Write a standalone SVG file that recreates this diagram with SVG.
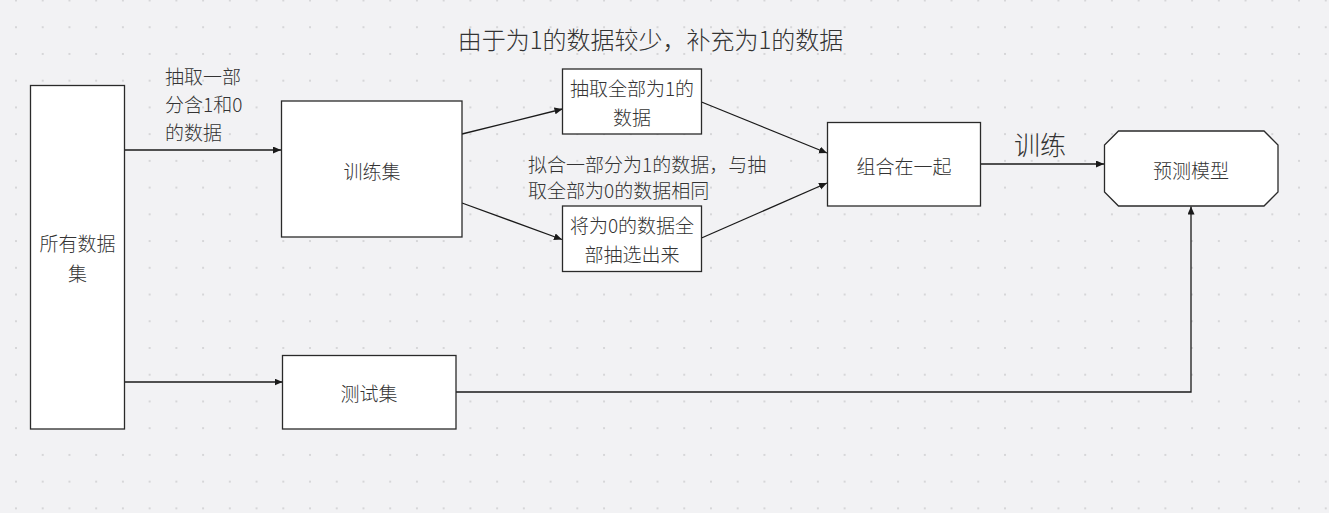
<svg xmlns="http://www.w3.org/2000/svg" width="1329" height="513" viewBox="0 0 1329 513">
  <defs>
    <pattern id="dots" patternUnits="userSpaceOnUse" x="15" y="-0.5" width="26.73" height="26.73">
      <rect x="0" y="0" width="2" height="2" fill="#d6d6d8"/>
    </pattern>
    <marker id="arrow" markerUnits="userSpaceOnUse" markerWidth="9" markerHeight="8" refX="8" refY="3.5" orient="auto">
      <path d="M0,0 L8,3.5 L0,7 z" fill="#1a1a1a"/>
    </marker>
    <style>
      .box { fill: #ffffff; stroke: #2a2a2a; stroke-width: 1.3; }
      .txt { font-family: "Noto Sans CJK SC", "Noto Sans", sans-serif; font-size: 19px; font-weight: 300; fill: #333333; dominant-baseline: central; }
      .mid { text-anchor: middle; }
      .conn { fill: none; stroke: #1a1a1a; stroke-width: 1.3; marker-end: url(#arrow); }
    </style>
  </defs>
  <rect x="0" y="0" width="1329" height="513" fill="#f2f2f4"/>
  <rect x="0" y="0" width="1329" height="513" fill="url(#dots)"/>

  <text class="txt mid" x="650.5" y="38" style="font-size:24px">由于为1的数据较少，补充为1的数据</text>

  <g id="connectors">
    <path class="conn" d="M124.5,150 L281,150"/>
    <path class="conn" d="M124.5,382 L282.5,382"/>
    <path class="conn" d="M462,134 L562.5,109"/>
    <path class="conn" d="M462,203 L562,239.5"/>
    <path class="conn" d="M701.5,102 L827,153"/>
    <path class="conn" d="M701.5,238 L827,183"/>
    <path class="conn" d="M980.5,164 L1104,164"/>
    <path class="conn" d="M456,392 L1191,392 L1191,206.5"/>
    <text class="txt" x="165" y="75">抽取一部</text>
    <text class="txt" x="165" y="103">分含1和0</text>
    <text class="txt" x="165" y="131">的数据</text>
    <text class="txt" x="528" y="163">拟合一部分为1的数据，与抽</text>
    <text class="txt" x="528" y="189">取全部为0的数据相同</text>
    <text class="txt mid" x="1040" y="143" style="font-size:26px">训练</text>
  </g>

  <g id="all-data">
    <rect class="box" x="30.5" y="85.5" width="94" height="343.5"/>
    <text class="txt mid" x="77.5" y="242.5">所有数据</text>
    <text class="txt mid" x="77.5" y="272">集</text>
  </g>
  <g id="train-set">
    <rect class="box" x="281.5" y="101" width="180.5" height="136"/>
    <text class="txt mid" x="372" y="170">训练集</text>
  </g>
  <g id="extract-ones">
    <rect class="box" x="562.5" y="69" width="139" height="65"/>
    <text class="txt mid" x="632" y="87.5">抽取全部为1的</text>
    <text class="txt mid" x="632" y="116.5">数据</text>
  </g>
  <g id="extract-zeros">
    <rect class="box" x="562.5" y="206" width="139" height="65.5"/>
    <text class="txt mid" x="632" y="224">将为0的数据全</text>
    <text class="txt mid" x="632" y="253">部抽选出来</text>
  </g>
  <g id="combine">
    <rect class="box" x="827.5" y="122.5" width="153" height="83.5"/>
    <text class="txt mid" x="904" y="165">组合在一起</text>
  </g>
  <g id="model">
    <polygon class="box" points="1118.5,131 1264,131 1278,145 1278,192 1264,206 1118.5,206 1104.5,192 1104.5,145"/>
    <text class="txt mid" x="1191" y="169">预测模型</text>
  </g>
  <g id="test-set">
    <rect class="box" x="282.5" y="355.5" width="173.5" height="73.5"/>
    <text class="txt mid" x="369" y="392">测试集</text>
  </g>
</svg>
